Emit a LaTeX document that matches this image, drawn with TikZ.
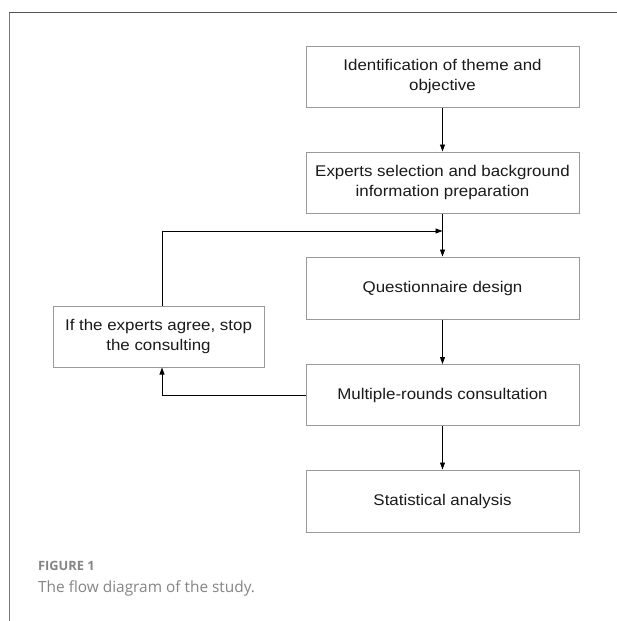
\documentclass[tikz,border=0pt]{standalone}
\usepackage{fontspec}
\setmainfont{Liberation Sans}[FakeStretch=1.09]
\newfontfamily\capfont{Open Sans}
\usetikzlibrary{arrows.meta}
\definecolor{boxgray}{HTML}{9A9A9A}
\definecolor{framegray}{HTML}{555555}
\definecolor{leftgray}{HTML}{777777}
\definecolor{capgray}{HTML}{858585}
\definecolor{textblack}{HTML}{1A1A1A}
\begin{document}
\begin{tikzpicture}[x=1pt,y=-1pt,
  box/.style={draw=boxgray, line width=1pt, minimum width=273pt, minimum height=61pt,
    inner sep=0pt, align=center, font=\fontsize{15.5}{20}\selectfont, text=textblack},
  conn/.style={draw=black, line width=0.9pt, -{Triangle[length=7pt,width=5pt]}},
  captext/.style={anchor=base west, inner sep=0pt, text=capgray}
]
\useasboundingbox (0,0) rectangle (617,621);
\fill[white] (0,0) rectangle (617,621);
\draw[leftgray, line width=1.4pt] (9.5,621) -- (9.5,12.5);
\draw[framegray, line width=1.4pt] (8.8,12.5) -- (617,12.5);

\node[box] (b1) at (442.5,76.5) {Identification of theme and\\objective};
\node[box] (b2) at (442.5,182.5) {Experts selection and background\\information preparation};
\node[box, minimum height=62pt] (b3) at (442.5,288) {Questionnaire design};
\node[box, minimum width=211pt] (b4) at (158.5,336.5) {If the experts agree, stop\\the consulting};
\node[box] (b5) at (442.5,395) {Multiple-rounds consultation};
\node[box, minimum height=62pt] (b6) at (442.5,501) {Statistical analysis};

\coordinate (j) at (442.5,231);
\draw[conn] (b1) -- (b2);
\draw[conn] (b2) -- (b3);
\draw[conn] (b3) -- (b5);
\draw[conn] (b5) -- (b6);
\draw[conn] ([xshift=3.5pt]b4.north) |- (j);
\draw[conn] (b5.west) -| ([xshift=3.5pt]b4.south);

\node[captext, font=\capfont\bfseries\fontsize{12.8}{15}\selectfont] (fig) at (38,570) {FIGURE 1};
\node[captext, font=\capfont\fontsize{15.4}{18}\selectfont] (cap) at (38,592) {The flow diagram of the study.};
\end{tikzpicture}
\end{document}
